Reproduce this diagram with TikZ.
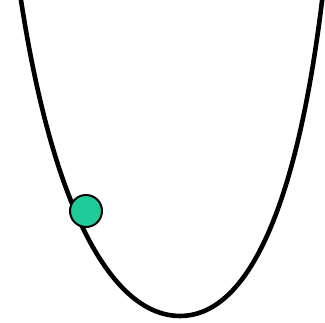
\documentclass[tikz,border=0pt]{standalone}
\usepackage{xcolor}
\usepackage{tikz}
\definecolor{ballgreen}{HTML}{1FCB9B}
\begin{document}
\begin{tikzpicture}[x=1pt, y=-1pt, line cap=round, line join=round]
  \useasboundingbox (0,0) rectangle (325,323);
  % valley
  \draw[black, line width=4.6] (20.5,-3) .. controls (56,230) and (120,316) .. (180,316)
    .. controls (240,316) and (294.5,230) .. (322.5,-3);
  % ball
  \filldraw[fill=ballgreen, draw=black, line width=2] (86,211) circle (16);
\end{tikzpicture}
\end{document}
